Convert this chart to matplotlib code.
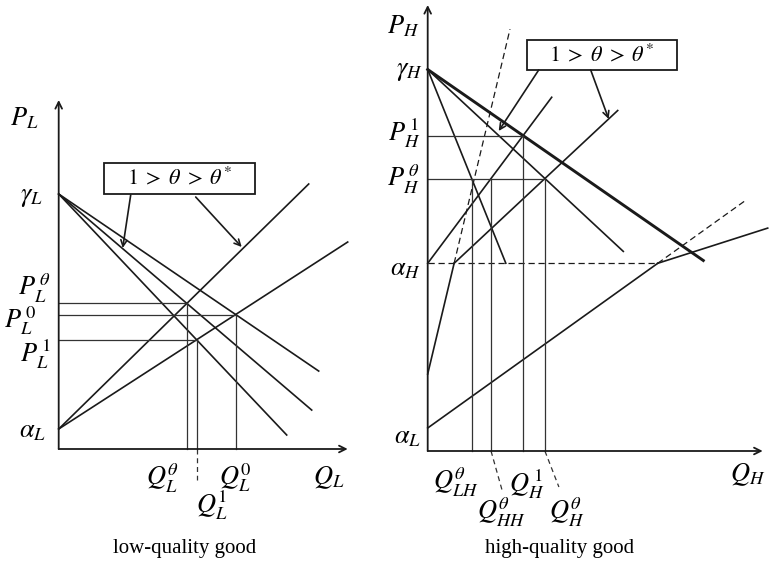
import matplotlib
matplotlib.use("Agg")
import matplotlib.pyplot as plt
from matplotlib.patches import Rectangle

plt.rcParams["mathtext.fontset"] = "stix"
plt.rcParams["font.family"] = ["Liberation Serif", "DejaVu Serif"]

# ---- low-quality market (left panel) ----
gamma_L = 25.5
alpha_L = 2.0
demand_L_slopes = [0.681, 0.854, 1.057]
demand_L_ends = [26.0, 25.3, 22.8]
supply_L_slopes = [0.98, 0.647]
supply_L_ends = [25.0, 28.9]

# ---- high-quality market (right panel) ----
gamma_H = 38.15
alpha_H = 18.77
alpha_L_right = 2.3
demand_H_slopes = [0.693, 0.93, 2.48]
demand_H_ends = [27.56, 19.56, 7.81]
supply_Ha = (1.339, 12.4)          # slope, end quantity
supply_Hb = (0.934, 19.0)
steep_line = (7.7, 4.19, 8.23)     # intercept, slope, end of dashed part
low_line = (0.716, 31.9)           # slope, end of dashed part
kinked = (0.32, 34.0)              # slope, end quantity

W, H = 769, 576
INK = "#1a1a1a"
LW = 1.2
FS = 19
BOX_TEXT = r"$1\;>\;\theta\;>\;\theta^{*}$"


def make_axes(fig, x0, x1, ox, oy):
    """Axes covering pixel columns x0..x1, data origin at pixel (ox, oy), 10 px per unit."""
    ax = fig.add_axes([x0 / W, 0, (x1 - x0) / W, 1])
    ax.set_xlim((x0 - ox) / 10, (x1 - ox) / 10)
    ax.set_ylim((oy - H) / 10, oy / 10)
    ax.axis("off")
    return ax


def cross(a1, b1, a2, b2):
    q = (a2 - a1) / (b1 - b2)
    return q, a1 + b1 * q


def axis_arrows(ax, xmax, ymax):
    kw = dict(arrowstyle="->", lw=1.3, color=INK, mutation_scale=12, shrinkA=0, shrinkB=0)
    ax.annotate("", xy=(xmax, 0), xytext=(0, 0), arrowprops=kw)
    ax.annotate("", xy=(0, ymax), xytext=(0, 0), arrowprops=kw)


def drop(ax, q, p, horiz=True):
    kw = dict(color="#333333", lw=0.9)
    if horiz:
        ax.plot([0, q], [p, p], **kw)
    ax.plot([q, q], [0, p], **kw)


def box(ax, x0, y0, x1, y1, text):
    ax.add_patch(Rectangle((x0, y1), x1 - x0, y0 - y1, fill=True, fc="white",
                           ec=INK, lw=1.3, zorder=3))
    ax.text((x0 + x1) / 2, (y0 + y1) / 2, text, ha="center", va="center",
            fontsize=16, zorder=4)


def pointer(ax, start, end):
    ax.annotate("", xy=end, xytext=start,
                arrowprops=dict(arrowstyle="->", lw=1.2, color=INK,
                                mutation_scale=11, shrinkA=0, shrinkB=0))


def label(ax, x, y, s):
    ax.text(x, y, s, fontsize=FS, ha="center", va="center")


fig = plt.figure(figsize=(W / 100, H / 100), dpi=100)
fig.patch.set_facecolor("white")

# ================= left panel =================
axL = make_axes(fig, 0, 385, 58.7, 449)
axis_arrows(axL, 28.9, 34.9)

for s, e in zip(demand_L_slopes, demand_L_ends):
    axL.plot([0, e], [gamma_L, gamma_L - s * e], color=INK, lw=LW)
for s, e in zip(supply_L_slopes, supply_L_ends):
    axL.plot([0, e], [alpha_L, alpha_L + s * e], color=INK, lw=LW)

q_th, p_th = cross(gamma_L, -demand_L_slopes[1], alpha_L, supply_L_slopes[0])
q_0, p_0 = cross(gamma_L, -demand_L_slopes[0], alpha_L, supply_L_slopes[1])
q_1, p_1 = cross(gamma_L, -demand_L_slopes[2], alpha_L, supply_L_slopes[1])
for q, p in [(q_th, p_th), (q_0, p_0), (q_1, p_1)]:
    drop(axL, q, p)
axL.plot([q_1, q_1], [0, -3.1], color="#333333", lw=0.9, ls=(0, (4, 3)))

label(axL, -3.4, 33.1, r"$P_L$")
label(axL, -2.7, 25.1, r"$\gamma_L$")
label(axL, -2.4, 16.1, r"$P_L^{\,\theta}$")
label(axL, -3.9, 12.8, r"$P_L^{\,0}$")
label(axL, -2.3, 9.5, r"$P_L^{\,1}$")
label(axL, -2.6, 1.7, r"$\alpha_L$")
label(axL, 10.4, -2.9, r"$Q_L^{\theta}$")
label(axL, 17.7, -2.9, r"$Q_L^{0}$")
label(axL, 15.3, -5.6, r"$Q_L^{1}$")
label(axL, 27.0, -2.9, r"$Q_L$")

box(axL, 4.5, 28.6, 19.6, 25.5, BOX_TEXT)
pointer(axL, (7.2, 25.4), (6.4, 20.1))
pointer(axL, (13.7, 25.2), (18.3, 20.2))

axL.text(12.6, -9.9, "low-quality good", fontsize=15, ha="center", va="center")

# ================= right panel =================
axR = make_axes(fig, 385, 769, 427.7, 451)
axis_arrows(axR, 33.5, 44.6)

demand_lw = [2.1, LW, LW]
for s, e, lw in zip(demand_H_slopes, demand_H_ends, demand_lw):
    axR.plot([0, e], [gamma_H, gamma_H - s * e], color=INK, lw=lw)

# steep line: solid below alpha_H, dashed above
a_st, b_st, e_st = steep_line
q_k = (alpha_H - a_st) / b_st
axR.plot([0, q_k], [a_st, alpha_H], color=INK, lw=LW)
axR.plot([q_k, e_st], [alpha_H, a_st + b_st * e_st], color=INK, lw=0.9, ls=(0, (5, 3)))

# supply lines
sa, ea = supply_Ha
axR.plot([0, ea], [alpha_H, alpha_H + sa * ea], color=INK, lw=LW)
sb, eb = supply_Hb
axR.plot([q_k, eb], [alpha_H, alpha_H + sb * (eb - q_k)], color=INK, lw=LW)

# line from alpha_L with kink at alpha_H
sl, el = low_line
q_low = (alpha_H - alpha_L_right) / sl
axR.plot([0, q_low], [alpha_L_right, alpha_H], color=INK, lw=LW)
axR.plot([q_low, el], [alpha_H, alpha_L_right + sl * el], color=INK, lw=0.9, ls=(0, (5, 3)))
sk, ek = kinked
axR.plot([q_low, ek], [alpha_H, alpha_H + sk * (ek - q_low)], color=INK, lw=LW)
axR.plot([0, q_low], [alpha_H, alpha_H], color=INK, lw=0.9, ls=(0, (5, 3)))

# equilibria
q_H1, p_H1 = cross(gamma_H, -demand_H_slopes[0], alpha_H, sa)
q_Hth, p_Hth = cross(gamma_H, -demand_H_slopes[1], alpha_H - sb * q_k, sb)
q_LH = (gamma_H - p_Hth) / demand_H_slopes[2]
q_HH = (p_Hth - alpha_H) / sa
drop(axR, q_H1, p_H1)
drop(axR, q_Hth, p_Hth)
drop(axR, q_LH, p_Hth, horiz=False)
drop(axR, q_HH, p_Hth, horiz=False)
dash = dict(color="#333333", lw=0.9, ls=(0, (4, 3)))
axR.plot([q_HH, q_HH + 1.1], [0, -3.9], **dash)
axR.plot([q_Hth, q_Hth + 1.4], [0, -3.6], **dash)

label(axR, -2.5, 42.5, r"$P_H$")
label(axR, -1.8, 37.9, r"$\gamma_H$")
label(axR, -2.4, 31.8, r"$P_H^{\,1}$")
label(axR, -2.4, 27.2, r"$P_H^{\,\theta}$")
label(axR, -2.2, 18.1, r"$\alpha_H$")
label(axR, -2.0, 1.3, r"$\alpha_L$")
label(axR, 2.8, -3.1, r"$Q_{LH}^{\theta}$")
label(axR, 7.4, -6.1, r"$Q_{HH}^{\theta}$")
label(axR, 9.9, -3.3, r"$Q_H^{\,1}$")
label(axR, 13.9, -6.1, r"$Q_H^{\theta}$")
label(axR, 32.0, -2.4, r"$Q_H$")

box(axR, 9.9, 41.1, 24.9, 38.1, BOX_TEXT)
pointer(axR, (11.1, 38.1), (7.1, 32.0))
pointer(axR, (16.3, 38.1), (18.1, 33.2))

axR.text(13.2, -9.7, "high-quality good", fontsize=15, ha="center", va="center")

fig.savefig("out.png", dpi=100, facecolor="white")
